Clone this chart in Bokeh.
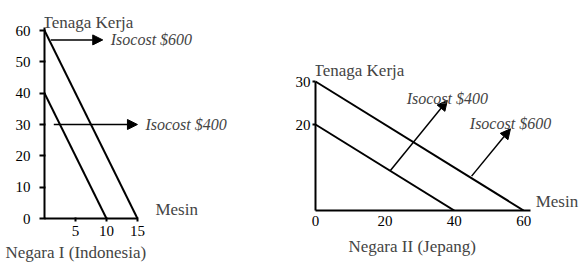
from bokeh.plotting import figure
from bokeh.layouts import row
from bokeh.models import Arrow, NormalHead, ColumnDataSource, Label, FixedTicker, Title
from bokeh.embed import file_html
from bokeh.resources import INLINE

FONT = "Liberation Serif"

# ---- Negara I (Indonesia) ----
indo_labels = ["Isocost $400", "Isocost $600"]
indo_labor = [40, 60]        # Tenaga Kerja intercepts
indo_machine = [10, 15]      # Mesin intercepts
indo_arrow_x0 = [1.5, 1.0]
indo_arrow_x1 = [15.0, 9.4]
indo_arrow_y = [30, 57]
indo_yticks = [0, 10, 20, 30, 40, 50, 60]
indo_xticks = [5, 10, 15]

# ---- Negara II (Jepang) ----
jp_labels = ["Isocost $400", "Isocost $600"]
jp_labor = [20, 30]
jp_machine = [40, 60]
jp_arrow_x0 = [21.6, 45.0]
jp_arrow_y0 = [9.3, 8.0]
jp_arrow_x1 = [38.0, 56.2]
jp_arrow_y1 = [25.6, 19.0]
jp_yticks = [20, 30]
jp_xticks = [0, 20, 40, 60]


def style(p, xticks, yticks, xb, yb):
    p.outline_line_color = None
    p.grid.visible = False
    p.background_fill_color = "white"
    p.border_fill_color = "white"
    p.frame_align = False
    for ax in (p.xaxis[0], p.yaxis[0]):
        ax.axis_line_width = 2
        ax.axis_line_color = "black"
        ax.major_tick_line_width = 2
        ax.minor_tick_line_color = None
        ax.major_label_text_font = FONT
        ax.major_label_text_font_size = "15px"
        ax.major_label_text_color = "black"
    p.xaxis[0].ticker = FixedTicker(ticks=xticks)
    p.yaxis[0].ticker = FixedTicker(ticks=yticks)
    p.xaxis[0].bounds = xb
    p.yaxis[0].bounds = yb


# Left chart
p1 = figure(width=290, height=263, x_range=(0, 39.7), y_range=(0, 69.58),
            output_backend="svg", toolbar_location=None,
            min_border_left=44, min_border_right=0, min_border_top=0, min_border_bottom=45)
style(p1, indo_xticks, indo_yticks, (0, 15), (0, 61))
p1.yaxis.major_tick_out = 5
p1.yaxis.major_tick_in = 1
p1.yaxis.major_label_standoff = 9
p1.xaxis.major_tick_out = 3
p1.xaxis.major_tick_in = 1
p1.xaxis.major_label_standoff = 4

src1 = ColumnDataSource(dict(x0=[0] * len(indo_labor), y0=indo_labor,
                             x1=indo_machine, y1=[0] * len(indo_machine)))
p1.segment("x0", "y0", "x1", "y1", source=src1, line_color="black", line_width=2)

asrc1 = ColumnDataSource(dict(x0=indo_arrow_x0, x1=indo_arrow_x1, y=indo_arrow_y))
p1.add_layout(Arrow(end=NormalHead(size=10, fill_color="black", line_color="black"),
                    x_start="x0", y_start="y", x_end="x1", y_end="y",
                    line_width=1.5, source=asrc1))
for lab, xe, y in zip(indo_labels, indo_arrow_x1, indo_arrow_y):
    p1.add_layout(Label(x=xe, y=y, x_offset=8, text=lab, text_font=FONT,
                        text_font_style="italic", text_font_size="16px",
                        text_baseline="middle", text_align="left"))

p1.add_layout(Label(x=0, y=indo_yticks[-1], y_offset=8, x_offset=-2, text="Tenaga Kerja",
                    text_font=FONT, text_font_size="17px", text_baseline="middle"))
p1.add_layout(Label(x=indo_machine[-1], y=0, x_offset=18, y_offset=0, text="Mesin",
                    text_font=FONT, text_font_size="17px", text_baseline="bottom"))
p1.add_layout(Title(text="Negara I (Indonesia)", align="left", offset=-39, standoff=4,
                    text_font=FONT, text_font_size="17px", text_font_style="normal"),
              "below")

# Right chart
p2 = figure(width=289, height=263, x_range=(0, 76.1), y_range=(0, 48.84),
            output_backend="svg", toolbar_location=None,
            min_border_left=25, min_border_right=0, min_border_top=0, min_border_bottom=53)
style(p2, jp_xticks, jp_yticks, (0, 62), (0, 30))
p2.yaxis.major_tick_out = 3
p2.yaxis.major_tick_in = 0
p2.yaxis.major_label_standoff = 2
p2.xaxis.major_tick_out = 0
p2.xaxis.major_tick_in = 0
p2.xaxis.major_label_standoff = 5

src2 = ColumnDataSource(dict(x0=[0] * len(jp_labor), y0=jp_labor,
                             x1=jp_machine, y1=[0] * len(jp_machine)))
p2.segment("x0", "y0", "x1", "y1", source=src2, line_color="black", line_width=2)

asrc2 = ColumnDataSource(dict(x0=jp_arrow_x0, y0=jp_arrow_y0, x1=jp_arrow_x1, y1=jp_arrow_y1))
p2.add_layout(Arrow(end=NormalHead(size=10, fill_color="black", line_color="black"),
                    x_start="x0", y_start="y0", x_end="x1", y_end="y1",
                    line_width=1.5, source=asrc2))
for lab, xe, ye, dy in zip(jp_labels, jp_arrow_x1, jp_arrow_y1, [2, 5]):
    p2.add_layout(Label(x=xe, y=ye, y_offset=dy, text=lab, text_font=FONT,
                        text_font_style="italic", text_font_size="16px",
                        text_baseline="middle", text_align="center"))

p2.add_layout(Label(x=0, y=jp_yticks[-1], y_offset=11, x_offset=-2, text="Tenaga Kerja",
                    text_font=FONT, text_font_size="17px", text_baseline="middle"))
p2.add_layout(Label(x=jp_machine[-1], y=0, x_offset=12, y_offset=0, text="Mesin",
                    text_font=FONT, text_font_size="17px", text_baseline="bottom"))
p2.add_layout(Title(text="Negara II (Jepang)", align="left", offset=33, standoff=13,
                    text_font=FONT, text_font_size="17px", text_font_style="normal"),
              "below")

layout = row(p1, p2, spacing=0)
open("out.html", "w").write(file_html(layout, INLINE))
